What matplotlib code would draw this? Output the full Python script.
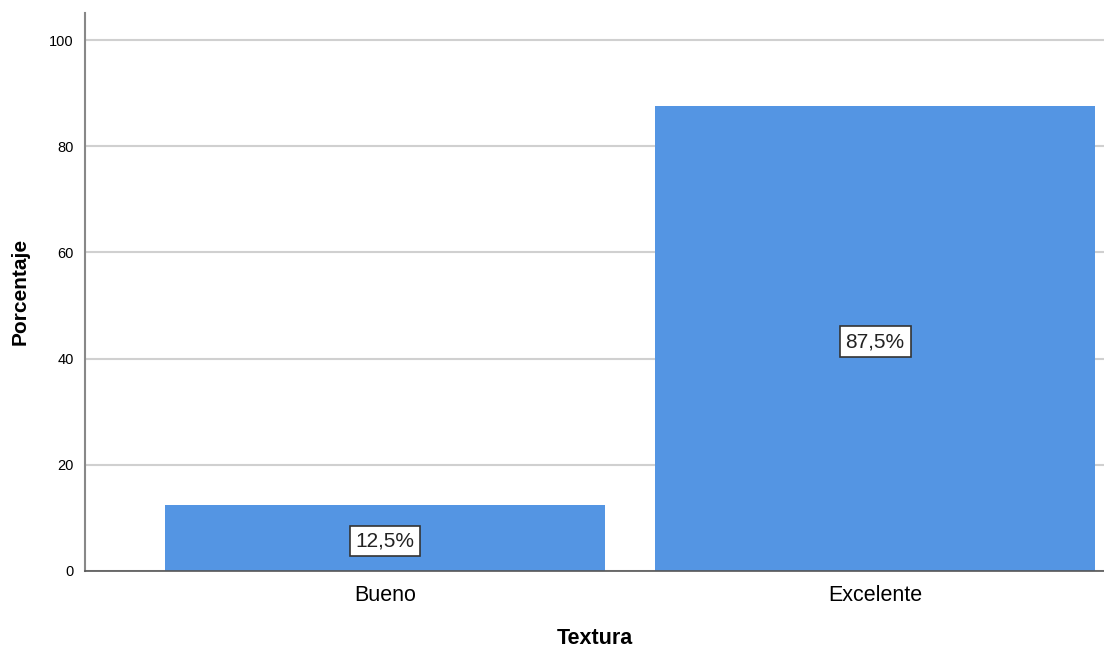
import matplotlib.pyplot as plt

categorias = ["Bueno", "Excelente"]
porcentajes = [12.5, 87.5]
etiquetas = ["12,5%", "87,5%"]
yticks = [0, 20, 40, 60, 80, 100]

plt.rcParams['font.family'] = ['Liberation Sans', 'DejaVu Sans']

fig = plt.figure(figsize=(11.04, 6.48), dpi=100)
ax = fig.add_axes([0.077, 0.119, 0.923, 0.861])

x = list(range(len(categorias)))
ax.bar(x, porcentajes, width=0.898, color="#5495e3", zorder=2)

for xi, v, t in zip(x, porcentajes, etiquetas):
    ax.text(xi, v / 2 - 0.6, t, ha="center", va="center", fontsize=15, color="#222222",
            bbox=dict(boxstyle="square,pad=0.28", facecolor="white", edgecolor="#333333", linewidth=1.2),
            zorder=3)

ax.set_xlim(-0.612, 1.467)
ax.set_ylim(0, 105.1)
ax.set_yticks(yticks)
ax.set_xticks(x)
ax.set_xticklabels(categorias, fontsize=15.5)
ax.tick_params(axis="y", labelsize=10.5, length=0, pad=8)
ax.tick_params(axis="x", length=0, pad=10)
ax.yaxis.grid(True, color="#d0d0d0", linewidth=1.5, zorder=0)
ax.set_axisbelow(True)

for s in ["top", "right"]:
    ax.spines[s].set_visible(False)
ax.spines["left"].set_color("#888888")
ax.spines["left"].set_linewidth(1.5)
ax.spines["bottom"].set_color("#555555")
ax.spines["bottom"].set_linewidth(1.2)

ax.set_ylabel("Porcentaje", fontsize=15, fontweight="bold", labelpad=14)
ax.set_xlabel("Textura", fontsize=15.5, fontweight="bold", labelpad=16)

fig.savefig("out.png", dpi=100)
